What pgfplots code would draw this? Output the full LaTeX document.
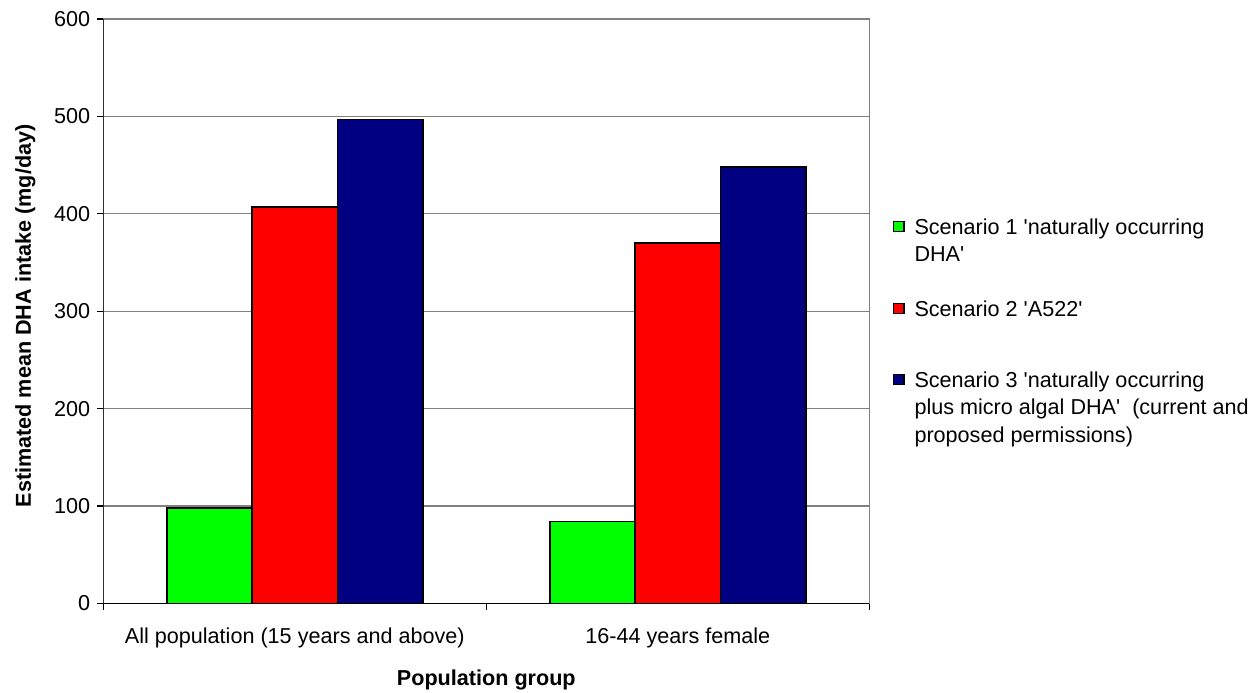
\documentclass[border=0pt]{standalone}
\usepackage{fontspec}
\setmainfont{Liberation Sans}
\usepackage{pgfplots}
\pgfplotsset{compat=1.18}
\newcommand\q{\textquotesingle}
\newcommand\entry[1]{\begin{tabular}[t]{@{\hspace{3pt}}l@{}}#1\end{tabular}}
\definecolor{sgreen}{HTML}{00FF00}
\definecolor{sred}{HTML}{FF0000}
\definecolor{snavy}{HTML}{000080}
\definecolor{gridgray}{HTML}{808080}
% square legend swatch; the argument reserves extra room below the entry
\pgfplotsset{
  sqlegend/.style={legend image code/.code={
    \draw[##1, draw=black, line width=0.6pt] (0pt,1.3pt) rectangle (5.2pt,6.5pt);
    \path (0pt,-#1);}},
}
\begin{document}
\begin{tikzpicture}[font=\fontsize{10.8}{13.75}\selectfont]
\path[use as bounding box] (-51.65pt,-44.25pt) rectangle (575.35pt,301.75pt);
\begin{axis}[
  at={(0,0)}, anchor=south west,
  scale only axis, width=383pt, height=292.25pt,
  xmin=0, xmax=2, ymin=0, ymax=600,
  ytick={0,100,...,600},
  ymajorgrids, major grid style={draw=gridgray, line width=0.6pt},
  xtick={0,1,2}, xticklabels={},
  extra x ticks={0.5,1.5},
  extra x tick labels={All population (15 years and above),16-44 years female},
  extra x tick style={major tick length=0pt, grid=none,
    xticklabel style={yshift=-8.5pt}},
  tick align=outside, tick pos=left, major tick length=3pt,
  tick style={black, line width=0.6pt},
  axis line style={draw=gridgray, line width=0.6pt},
  /pgf/number format/assume math mode=true,
  ticklabel style={font=\fontsize{10.8}{13}\selectfont},
  ybar=0pt, bar width=42.65pt,
  every axis y label/.style={at={(axis description cs:-0.1018,0.492)}, rotate=90, anchor=center},
  every axis x label/.style={at={(axis description cs:0.5,-0.131)}, anchor=center},
  ylabel={\textbf{Estimated mean DHA intake (mg/day)}},
  xlabel={\textbf{Population group}},
  legend style={at={(axis description cs:1,0.672)}, anchor=north west, xshift=11.5pt,
    draw=none, fill=none, inner sep=0pt, row sep=0pt,
    cells={anchor=base west},
    font=\fontsize{10.8}{13.75}\selectfont},
]
\addplot[fill=sgreen, draw=black, line width=0.8pt, sqlegend=29pt] coordinates {(0.5,98) (1.5,84)};
\addplot[fill=sred, draw=black, line width=0.8pt, sqlegend=23.5pt] coordinates {(0.5,407) (1.5,370)};
\addplot[fill=snavy, draw=black, line width=0.8pt, sqlegend=0pt] coordinates {(0.5,497) (1.5,448)};
\addlegendentry{\entry{Scenario 1 \q{}naturally occurring\\DHA\q{}}}
\addlegendentry{\entry{Scenario 2 \q{}A522\q{}}}
\addlegendentry{\entry{Scenario 3 \q{}naturally occurring\\plus micro algal DHA\q{}~ (current and\\proposed permissions)}}
\draw[black, line width=0.7pt] (rel axis cs:0,0) -- (rel axis cs:0,1);
\draw[black, line width=0.7pt] (rel axis cs:0,0) -- (rel axis cs:1,0);
\end{axis}
\end{tikzpicture}
\end{document}
